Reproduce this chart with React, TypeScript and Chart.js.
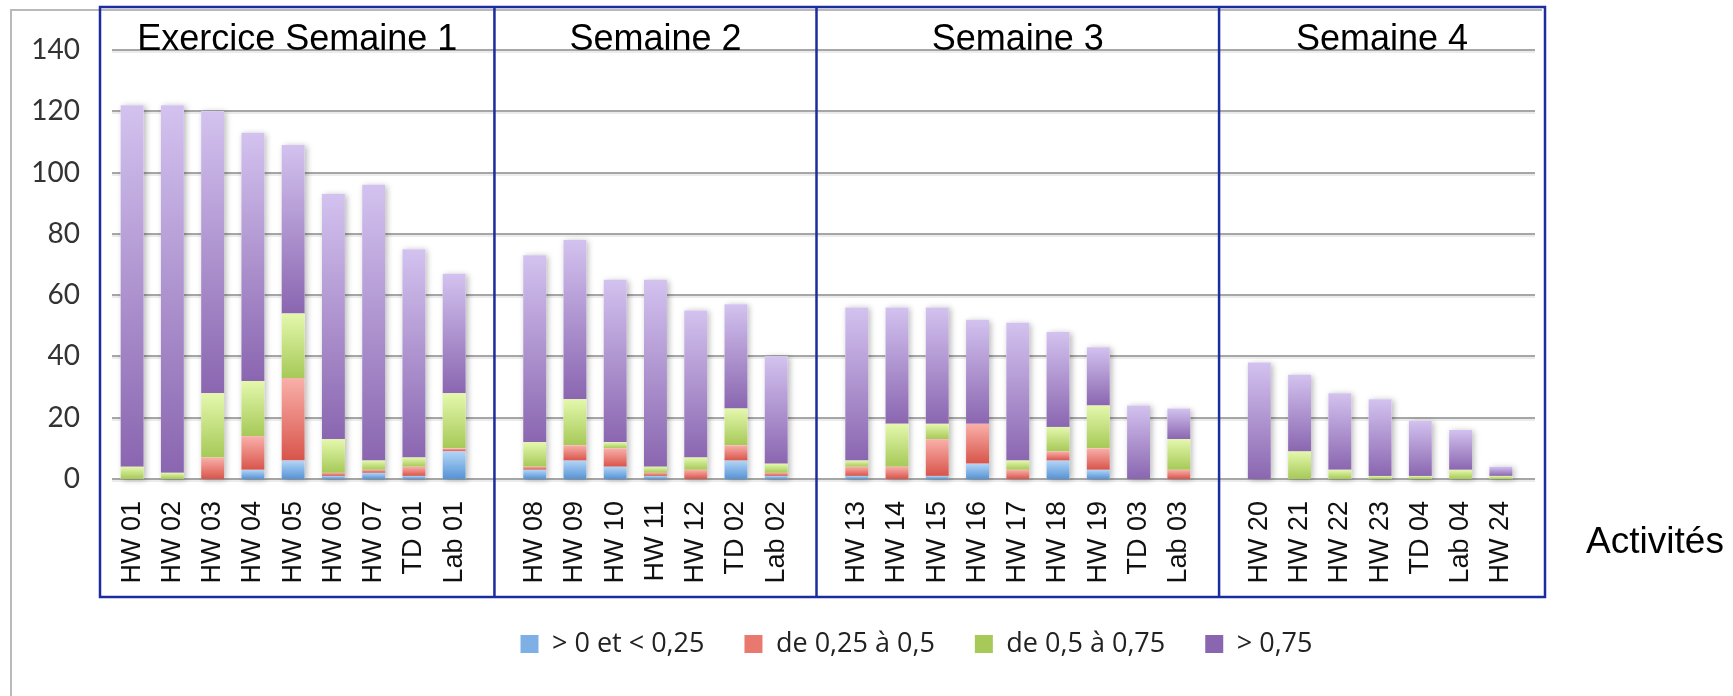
import React, { useEffect, useRef } from 'react';
import { Chart, registerables } from 'chart.js';

Chart.register(...registerables);

// ---- Data ----
const categories = [
  'HW 01', 'HW 02', 'HW 03', 'HW 04', 'HW 05', 'HW 06', 'HW 07', 'TD 01', 'Lab 01', '',
  'HW 08', 'HW 09', 'HW 10', 'HW 11', 'HW 12', 'TD 02', 'Lab 02', '',
  'HW 13', 'HW 14', 'HW 15', 'HW 16', 'HW 17', 'HW 18', 'HW 19', 'TD 03', 'Lab 03', '',
  'HW 20', 'HW 21', 'HW 22', 'HW 23', 'TD 04', 'Lab 04', 'HW 24',
];

const seriesBlue = [0, 0, 0, 3, 6, 1, 2, 1, 9, null, 3, 6, 4, 1, 0, 6, 1, null, 1, 0, 1, 5, 0, 6, 3, 0, 0, null, 0, 0, 0, 0, 0, 0, 0];
const seriesRed = [0, 0, 7, 11, 27, 1, 1, 3, 1, null, 1, 5, 6, 1, 3, 5, 1, null, 3, 4, 12, 13, 3, 3, 7, 0, 3, null, 0, 0, 0, 0, 0, 0, 0];
const seriesGreen = [4, 2, 21, 18, 21, 11, 3, 3, 18, null, 8, 15, 2, 2, 4, 12, 3, null, 2, 14, 5, 0, 3, 8, 14, 0, 10, null, 0, 9, 3, 1, 1, 3, 1];
const seriesPurple = [118, 120, 92, 81, 55, 80, 90, 68, 39, null, 61, 52, 53, 61, 48, 34, 35, null, 50, 38, 38, 34, 45, 31, 19, 24, 10, null, 38, 25, 25, 25, 18, 13, 3];

const seriesNames = ['> 0 et < 0,25', 'de 0,25 à 0,5', 'de 0,5 à 0,75', '> 0,75'];
const weekTitles = ['Exercice Semaine 1', 'Semaine 2', 'Semaine 3', 'Semaine 4'];
const yMin = 0;
const yMax = 140;
const yStep = 20;
const xAxisTitle = 'Activités';

const allSeries = [seriesBlue, seriesRed, seriesGreen, seriesPurple];

// ---- Styles ----
const gradStops = [
  ['#b2d5f7', '#5693d5'],
  ['#f9b0aa', '#d8544a'],
  ['#e4f8ad', '#a6c957'],
  ['#d3c2ef', '#8a66b0'],
];
const solidColors = ['#7eb0e6', '#e9796f', '#c5df7d', '#ab8ecd'];

const stackTotal = (i: number) =>
  allSeries.reduce((acc, s) => acc + ((s[i] as number) ?? 0), 0);

const makeBg = (d: number) => (ctx: any) => {
  if (ctx.type !== 'data') return solidColors[d];
  const chart = ctx.chart;
  const y = chart.scales && chart.scales.y;
  if (!y || !chart.chartArea) return solidColors[d];
  const i = ctx.dataIndex;
  let base = 0;
  for (let k = 0; k < d; k++) base += (allSeries[k][i] as number) ?? 0;
  const top = base + ((allSeries[d][i] as number) ?? 0);
  const y0 = y.getPixelForValue(top);
  const y1 = y.getPixelForValue(base);
  if (!(y1 - y0 > 0.5)) return solidColors[d];
  const g = chart.ctx.createLinearGradient(0, y0, 0, y1);
  g.addColorStop(0, gradStops[d][0]);
  g.addColorStop(1, gradStops[d][1]);
  return g;
};

const decorPlugin = {
  id: 'decor',
  beforeDraw(chart: any) {
    const lg = chart.legend;
    if (lg) {
      const h = lg.height;
      lg.left = 100;
      lg.right = 1733;
      lg.top = 590.5;
      lg.bottom = 590.5 + h;
    }
  },
  beforeDatasetsDraw(chart: any) {
    const { ctx, chartArea, scales } = chart;
    const y = scales.y;
    const x = scales.x;
    ctx.save();
    // outer frame
    ctx.strokeStyle = '#b9b9b9';
    ctx.lineWidth = 2;
    ctx.beginPath();
    ctx.moveTo(11, 696);
    ctx.lineTo(11, 10);
    ctx.lineTo(chartArea.right + 21, 10);
    ctx.stroke();
    // gridlines with a soft shadow
    y.ticks.forEach((t: any) => {
      const py = Math.round(y.getPixelForValue(t.value));
      ctx.strokeStyle = 'rgba(0,0,0,0.08)';
      ctx.lineWidth = 2;
      ctx.beginPath();
      ctx.moveTo(chartArea.left, py + 2);
      ctx.lineTo(chartArea.right + 14, py + 2);
      ctx.stroke();
      ctx.strokeStyle = '#a6a6a6';
      ctx.lineWidth = 2;
      ctx.beginPath();
      ctx.moveTo(chartArea.left, py);
      ctx.lineTo(chartArea.right + 14, py);
      ctx.stroke();
    });
    // soft shadow behind each stacked bar
    const meta = chart.getDatasetMeta(3);
    ctx.fillStyle = '#ffffff';
    ctx.shadowColor = 'rgba(0,0,0,0.28)';
    ctx.shadowBlur = 6;
    ctx.shadowOffsetX = 2;
    ctx.shadowOffsetY = 1;
    categories.forEach((c, i) => {
      const tot = stackTotal(i);
      if (!c || tot <= 0) return;
      const el = meta.data[i];
      const w = el ? el.width : 23;
      const cx = x.getPixelForValue(i);
      const yt = y.getPixelForValue(tot);
      const yb = y.getPixelForValue(0);
      ctx.fillRect(cx - w / 2, yt, w, yb - yt);
    });
    ctx.restore();
  },
  afterDraw(chart: any) {
    const { ctx, chartArea, scales } = chart;
    const x = scales.x;
    const edges: number[] = [chartArea.left - 12];
    categories.forEach((c, i) => {
      if (c === '') edges.push(x.getPixelForValue(i));
    });
    edges.push(chartArea.right + 24);
    const top = 7;
    const bottom = 597;
    ctx.save();
    ctx.strokeStyle = '#1a2c9e';
    ctx.lineWidth = 2.5;
    ctx.strokeRect(edges[0], top, edges[edges.length - 1] - edges[0], bottom - top);
    for (let k = 1; k < edges.length - 1; k++) {
      ctx.beginPath();
      ctx.moveTo(edges[k], top);
      ctx.lineTo(edges[k], bottom);
      ctx.stroke();
    }
    ctx.fillStyle = '#000';
    ctx.font = '36px "Liberation Sans", Arial, sans-serif';
    ctx.textAlign = 'center';
    ctx.textBaseline = 'alphabetic';
    weekTitles.forEach((t, k) => {
      ctx.fillText(t, (edges[k] + edges[k + 1]) / 2, 50);
    });
    ctx.font = '37px "Liberation Sans", Arial, sans-serif';
    ctx.fillText(xAxisTitle, 1655, 553);
    ctx.restore();
  },
};

export default function App() {
  const ref = useRef<HTMLCanvasElement | null>(null);
  useEffect(() => {
    document.body.style.margin = '0';
    const canvas = ref.current;
    if (!canvas) return;
    const chart = new Chart(canvas, {
      type: 'bar',
      data: {
        labels: categories,
        datasets: allSeries.map((s, d) => ({
          label: seriesNames[d],
          data: s,
          backgroundColor: makeBg(d),
          borderWidth: 0,
          barPercentage: 0.57,
          categoryPercentage: 1,
        })),
      },
      options: {
        responsive: false,
        animation: false,
        layout: { padding: { top: 50, right: 212, bottom: 0, left: 0 } },
        scales: {
          x: {
            stacked: true,
            grid: { display: false, drawTicks: false, tickLength: 0 },
            border: { display: false },
            ticks: {
              autoSkip: false,
              maxRotation: 90,
              minRotation: 90,
              padding: 22,
              color: '#111',
              font: { family: '"Liberation Sans", Arial, sans-serif', size: 27 },
            },
            afterFit: (s: any) => {
              s.height = 140;
            },
          },
          y: {
            stacked: true,
            min: yMin,
            max: yMax,
            ticks: {
              stepSize: yStep,
              padding: 32,
              color: '#333',
              font: { family: 'Lato, sans-serif', size: 28 },
            },
            grid: { display: false, drawTicks: false },
            border: { display: false },
            afterFit: (s: any) => {
              s.width = 112;
            },
          },
        },
        plugins: {
          tooltip: { enabled: false },
          legend: {
            position: 'bottom',
            labels: {
              boxWidth: 18,
              boxHeight: 18,
              padding: 40,
              color: '#222',
              font: { family: '"Open Sans", sans-serif', size: 27 },
            },
          },
        },
      },
      plugins: [decorPlugin],
    } as any);
    return () => chart.destroy();
  }, []);
  return (
    <div style={{ position: 'absolute', left: 0, top: 0, width: 1733, height: 696 }}>
      <canvas ref={ref} width={1733} height={696} />
    </div>
  );
}
